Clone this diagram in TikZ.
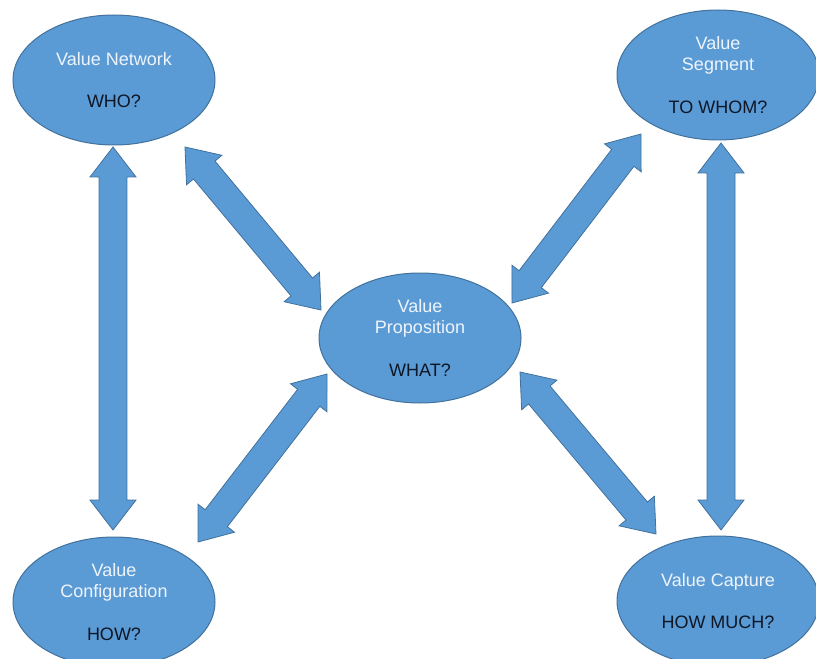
\documentclass[tikz,border=0pt]{standalone}
\usepackage{fontspec}
\setmainfont{Liberation Sans}
\usepackage{tikz}
\usetikzlibrary{shapes,calc,positioning}

\definecolor{vblue}{HTML}{5B9BD5}
\definecolor{vedge}{HTML}{41719C}
\definecolor{vlight}{HTML}{EEF4FB}
\definecolor{vdark}{HTML}{0E1726}

% fat double headed arrow between two points
\newcommand{\fatarrow}[2]{%
  \draw[bigarrow] (#1)
    -- ($(#1)!28.35pt!37.5:(#2)$) -- ($(#1)!24.83pt!25:(#2)$)
    -- ($(#2)!24.83pt!-25:(#1)$) -- ($(#2)!28.35pt!-37.5:(#1)$)
    -- (#2)
    -- ($(#2)!28.35pt!37.5:(#1)$) -- ($(#2)!24.83pt!25:(#1)$)
    -- ($(#1)!24.83pt!-25:(#2)$) -- ($(#1)!28.35pt!-37.5:(#2)$)
    -- cycle;}

\tikzset{
  value/.style={ellipse,draw=vedge,fill=vblue,line width=0.75pt,
    minimum width=151.5pt,minimum height=97.5pt,inner sep=0pt,
    align=center,text=vlight,font=\fontsize{13.5}{16}\selectfont},
  bigarrow/.style={draw=vedge,fill=vblue,line width=0.6pt,line join=miter}
}

\begin{document}
\begin{tikzpicture}[x=0.75pt,y=-0.75pt]
\useasboundingbox (0,0) rectangle (816,659);

\node[value] (net)  at (114,80)  {Value Network\\[16pt]\textcolor{vdark}{WHO?}};
\node[value] (seg)  at (718,75)  {Value\\Segment\\[16pt]\textcolor{vdark}{TO WHOM?}};
\node[value] (prop) at (420,338) {Value\\Proposition\\[16pt]\textcolor{vdark}{WHAT?}};
\node[value] (conf) at (114,602) {Value\\Configuration\\[16pt]\textcolor{vdark}{HOW?}};
\node[value] (capt) at (718,601) {Value Capture\\[16pt]\textcolor{vdark}{HOW MUCH?}};

% arrow tips next to the ellipses
\coordinate (net-s)  at ($(net)+(-1,67)$);
\coordinate (net-se) at ($(net)+(71,67)$);
\coordinate (seg-s)  at ($(seg)+(3,68)$);
\coordinate (seg-sw) at ($(seg)+(-77,59)$);
\coordinate (conf-n)  at ($(conf)+(-1,-72)$);
\coordinate (conf-ne) at ($(conf)+(84,-60)$);
\coordinate (capt-n)  at ($(capt)+(3,-71)$);
\coordinate (capt-nw) at ($(capt)+(-62,-67)$);
\coordinate (prop-nw) at ($(prop)+(-99,-28)$);
\coordinate (prop-ne) at ($(prop)+(92,-35)$);
\coordinate (prop-sw) at ($(prop)+(-93,36)$);
\coordinate (prop-se) at ($(prop)+(100,34)$);

\fatarrow{net-s}{conf-n}
\fatarrow{seg-s}{capt-n}
\fatarrow{net-se}{prop-nw}
\fatarrow{seg-sw}{prop-ne}
\fatarrow{conf-ne}{prop-sw}
\fatarrow{capt-nw}{prop-se}
\end{tikzpicture}
\end{document}
